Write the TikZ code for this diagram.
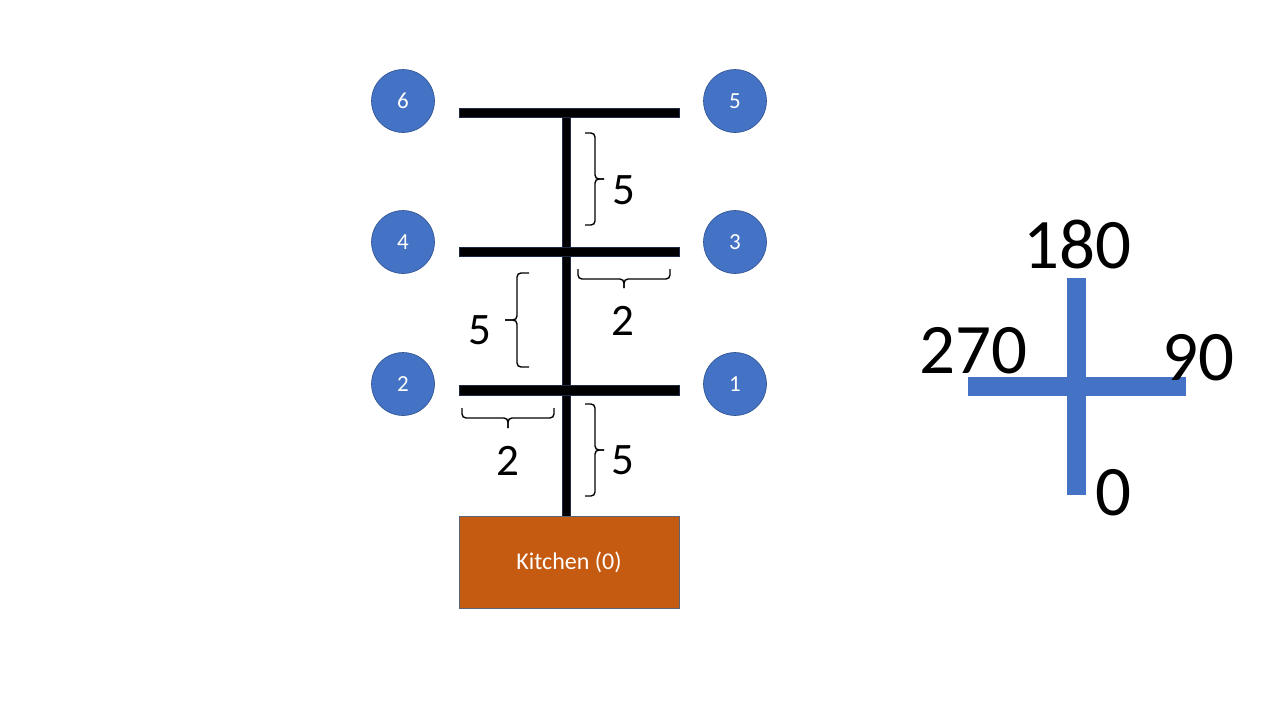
\documentclass[tikz,border=0pt]{standalone}
\usepackage{fontspec}
\setmainfont{Carlito}
\definecolor{obl}{HTML}{4472C4}
\definecolor{oblb}{HTML}{2F528F}
\definecolor{orn}{HTML}{C55A11}
\definecolor{ornb}{HTML}{5A6478}
\definecolor{barb}{HTML}{1F2A44}
\tikzset{
  room/.style={circle,fill=obl,draw=oblb,line width=0.6pt,minimum size=63pt,inner sep=0pt,text=white,font=\fontsize{23}{26}\selectfont},
  kitchenbox/.style={rectangle,fill=orn,draw=ornb,line width=0.8pt,minimum width=220pt,minimum height=92pt,inner sep=0pt,text=white,font=\fontsize{24}{28}\selectfont},
  bar/.style={fill=black,draw=barb,line width=0.6pt},
  curly/.style={draw=black,line width=1.4pt,rounded corners=4pt},
  dimlabel/.style={inner sep=0pt,font=\fontsize{45}{52}\selectfont},
  dirlabel/.style={inner sep=0pt,font=\fontsize{71}{80}\selectfont},
  arm/.style={fill=obl}
}
\begin{document}
\begin{tikzpicture}[x=1pt,y=-1pt]
\useasboundingbox (0,0) rectangle (1280,720);
% corridor
\filldraw[bar] (562,117) rectangle (570,517);
\filldraw[bar] (459,108) rectangle (679,117);
\filldraw[bar] (459,247) rectangle (679,256);
\filldraw[bar] (459,385) rectangle (679,395);
% rooms
\node[room] (r6) at (403,101) {6};
\node[room] (r5) at (735,101) {5};
\node[room] (r4) at (403,242) {4};
\node[room] (r3) at (735,242) {3};
\node[room] (r2) at (403,384) {2};
\node[room] (r1) at (735,384) {1};
% kitchen
\node[kitchenbox] (kit) at (569,562) {Kitchen (0)};
% brace 1 (right-pointing)
\coordinate (b1a) at (585,133); \coordinate (b1t) at (604,179); \coordinate (b1b) at (585,225);
\draw[curly] (b1a) -- (595,133) -- (595,179) -- (b1t);
\draw[curly] (b1t) -- (595,179) -- (595,225) -- (b1b);
\node[dimlabel] (l1) at (624,190) {5};
% brace 2 (down-pointing, right)
\coordinate (b2a) at (578,269); \coordinate (b2t) at (624,288); \coordinate (b2b) at (670,269);
\draw[curly] (b2a) -- (578,279) -- (624,279) -- (b2t);
\draw[curly] (b2t) -- (624,279) -- (670,279) -- (b2b);
\node[dimlabel] (l2) at (623,321) {2};
% brace 3 (left-pointing)
\coordinate (b3a) at (529,273); \coordinate (b3t) at (505,320); \coordinate (b3b) at (529,367);
\draw[curly] (b3a) -- (517,273) -- (517,320) -- (b3t);
\draw[curly] (b3t) -- (517,320) -- (517,367) -- (b3b);
\node[dimlabel] (l3) at (480,330) {5};
% brace 4 (down-pointing, left)
\coordinate (b4a) at (462,408); \coordinate (b4t) at (508,428); \coordinate (b4b) at (554,408);
\draw[curly] (b4a) -- (462,418) -- (508,418) -- (b4t);
\draw[curly] (b4t) -- (508,418) -- (554,418) -- (b4b);
\node[dimlabel] (l4) at (508,461) {2};
% brace 5 (right-pointing)
\coordinate (b5a) at (585,404); \coordinate (b5t) at (604,450); \coordinate (b5b) at (585,496);
\draw[curly] (b5a) -- (595,404) -- (595,450) -- (b5t);
\draw[curly] (b5t) -- (595,450) -- (595,496) -- (b5b);
\node[dimlabel] (l5) at (623,460) {5};
% compass cross
\fill[arm] (1067,278) rectangle (1086,495);
\fill[arm] (968,377) rectangle (1186,396);
\node[dirlabel] (d180) at (1077,245) {180};
\node[dirlabel] (d270) at (973,351) {270};
\node[dirlabel] (d90) at (1198,358) {90};
\node[dirlabel] (d0) at (1113,493) {0};
\end{tikzpicture}
\end{document}
